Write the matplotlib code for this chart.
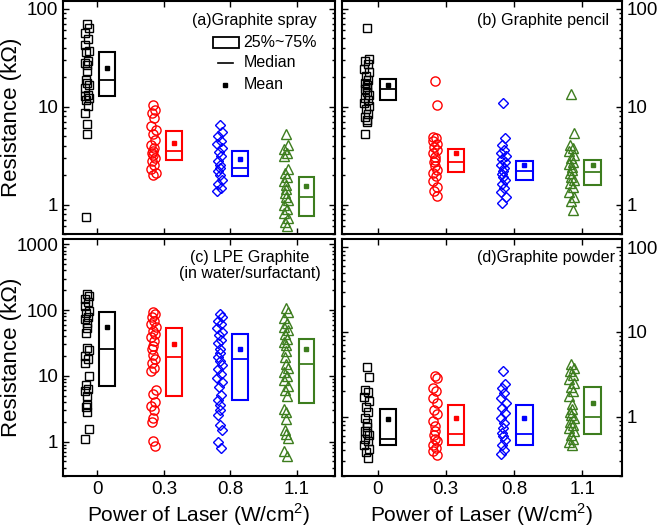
# -*- coding: utf-8 -*-
"""
Resistance vs laser power for four graphite inks (2x2 panel plot).
"""

import numpy as np
import matplotlib
matplotlib.use('Agg')
import matplotlib.pyplot as plt
from matplotlib.patches import Rectangle
from matplotlib.lines import Line2D
from matplotlib.ticker import LogLocator, FuncFormatter, NullFormatter

plt.rcParams['font.family'] = ['Liberation Sans', 'DejaVu Sans']
plt.rcParams['mathtext.fontset'] = 'custom'
plt.rcParams['mathtext.rm'] = 'Liberation Sans'

# ---- data (kOhm) ----
powers = ['0', '0.3', '0.8', '1.1']

# (a) graphite spray: raw points per laser power
spray_pts = [
    [70, 63.5, 56.5, 49, 43, 36.7, 35.8, 29.5, 27.9, 26.8, 23, 18.9, 17.4,
     16.8, 15.5, 13.3, 12.7, 12.3, 11.8, 10.1, 8.6, 6.65, 5.26, 0.75],
    [10.5, 9.3, 8.6, 7.66, 6.3, 5.8, 5.2, 4.6, 4.1, 3.8, 3.5, 3.37, 3.24,
     3.0, 2.77, 2.56, 2.28, 2.1, 2.0],
    [6.55, 5.47, 4.98, 4.43, 4.19, 3.79, 3.42, 3.11, 2.77, 2.56, 2.37, 2.19,
     2.02, 1.80, 1.64, 1.48, 1.37],
    [5.2, 4.1, 3.7, 3.37, 3.1, 2.31, 2.1, 1.92, 1.73, 1.60, 1.45, 1.32, 1.20,
     1.11, 1.0, 0.89, 0.82, 0.73, 0.66, 0.60],
]
spray_q25 = [12.9, 2.88, 1.95, 0.77]
spray_med = [18.9, 3.5, 2.37, 1.20]
spray_q75 = [35.8, 5.7, 3.56, 1.92]
spray_mean = [24.6, 4.3, 2.92, 1.54]

# (b) graphite pencil
pencil_pts = [
    [64, 31, 29.5, 27.3, 24.3, 22.5, 20.5, 18.9, 17.5, 16.7, 15.8, 15.0, 14.1,
     13.0, 12.2, 11.6, 11.0, 10.2, 9.4, 8.5, 7.9, 7.3, 6.9, 5.3],
    [18.1, 10.5, 4.93, 4.74, 4.45, 4.12, 3.84, 3.61, 3.39, 3.09, 2.86, 2.71,
     2.45, 2.26, 2.09, 1.94, 1.75, 1.50, 1.36, 1.23],
    [10.9, 4.74, 4.06, 3.61, 3.39, 3.16, 2.93, 2.71, 2.54, 2.35, 2.21, 2.06,
     1.91, 1.76, 1.63, 1.48, 1.34, 1.19, 1.04],
    [13.5, 5.33, 4.06, 3.81, 3.53, 3.21, 2.97, 2.75, 2.58, 2.41, 2.25, 2.08,
     1.92, 1.78, 1.65, 1.50, 1.34, 1.19, 1.08, 0.87],
]
pencil_q25 = [11.6, 2.13, 1.76, 1.58]
pencil_med = [15.0, 2.75, 2.18, 2.14]
pencil_q75 = [19.2, 3.66, 2.79, 2.84]
pencil_mean = [16.7, 3.39, 2.54, 2.54]

# (c) LPE graphite (in water/surfactant)
lpe_pts = [
    [176, 162, 147, 131, 114, 97.7, 90, 77, 73, 63, 54, 45.5, 26.8, 24.7, 20,
     17.8, 15.4, 9.9, 7.36, 6.32, 5.8, 5.0, 3.64, 3.35, 2.81, 1.55, 1.09],
    [94, 86, 77, 68.7, 61, 56, 48.3, 42.9, 39.5, 34, 28.5, 25.3, 20.5, 17.8,
     15.8, 13.3, 11.8, 6.0, 5.37, 3.95, 3.43, 2.98, 2.28, 2.02, 1.03, 0.86],
    [86.9, 77, 68.7, 61, 53, 46.6, 41.4, 35.2, 31.3, 25.9, 22.5, 19.5, 16.8,
     14.6, 12.9, 10.5, 9.32, 8.1, 6.79, 5.06, 4.34, 3.56, 2.98, 2.5, 1.8,
     1.51, 0.97, 0.79],
    [106, 92, 75.4, 63, 56, 49.4, 42.9, 36.8, 32.7, 29.1, 23.9, 19.5, 14.9,
     13.3, 11.4, 9.88, 8.5, 6.95, 6.18, 4.89, 3.13, 2.78, 2.2, 1.51, 1.29,
     1.15, 0.73, 0.6],
]
lpe_q25 = [6.95, 4.88, 4.24, 3.86]
lpe_med = [25.9, 19.3, 17.8, 14.9]
lpe_q75 = [92, 53, 42.9, 36.8]
lpe_mean = [55.6, 30.9, 25.9, 25.3]

# (d) graphite powder
powder_pts = [
    [3.86, 2.97, 2.05, 1.97, 1.71, 1.53, 1.31, 1.15, 0.97, 0.85, 0.76, 0.68,
     0.65, 0.61, 0.55, 0.52, 0.47, 0.42, 0.38, 0.33],
    [3.02, 2.89, 2.2, 2.01, 1.68, 1.46, 1.19, 1.07, 0.89, 0.78, 0.68, 0.61,
     0.55, 0.52, 0.47, 0.43, 0.39, 0.35],
    [3.46, 2.41, 2.16, 1.92, 1.68, 1.46, 1.28, 1.11, 0.97, 0.85, 0.74, 0.65,
     0.59, 0.53, 0.47, 0.41, 0.36],
    [4.15, 3.79, 3.46, 3.1, 2.76, 2.52, 2.24, 2.01, 1.75, 1.4, 1.25, 1.15,
     1.05, 0.96, 0.87, 0.8, 0.73, 0.67, 0.61, 0.55, 0.51, 0.46],
]
powder_q25 = [0.46, 0.47, 0.47, 0.62]
powder_med = [0.55, 0.62, 0.62, 1.0]
powder_q75 = [1.24, 1.37, 1.37, 2.24]
powder_mean = [0.95, 0.97, 0.97, 1.46]

# ---- style ----
colors = ['black', '#ff0000', '#0000ff', '#3d7d1e']
markers = ['s', 'o', 'D', '^']
msizes = [5.6, 6.6, 5.0, 7.0]
jitter = [0.0, 0.03, -0.024, 0.016, -0.034, 0.036, -0.01, 0.024, -0.03,
          0.008, 0.004, -0.018]


def draw_panel(ax, pts, q25, med, q75, mean, ylim, label_side):
    pos = np.arange(1, len(powers) + 1)
    for i in range(len(powers)):
        vals = np.asarray(pts[i])
        xj = pos[i] - 0.16 + np.resize(jitter, len(vals))
        ax.plot(xj, vals, linestyle='none', marker=markers[i],
                markersize=msizes[i], markerfacecolor='none',
                markeredgecolor=colors[i], markeredgewidth=1.0)
    # 25%~75% boxes, median and mean
    ax.bar(pos + 0.15, np.array(q75) - np.array(q25), bottom=q25, width=0.24,
           facecolor='none', edgecolor=colors, linewidth=1.5)
    ax.hlines(med, pos + 0.03, pos + 0.27, colors=colors, linewidth=1.3)
    for i in range(len(powers)):
        ax.plot(pos[i] + 0.15, mean[i], marker='s', markersize=2.6,
                color=colors[i], linestyle='none')

    ax.set_yscale('log')
    ax.set_ylim(*ylim)
    ax.set_xlim(0.48, 4.58)
    ax.set_xticks(pos)
    ax.yaxis.set_major_locator(LogLocator(base=10))
    ax.yaxis.set_minor_locator(LogLocator(base=10, subs=np.arange(2, 10)))
    ax.yaxis.set_major_formatter(FuncFormatter(lambda v, p: '%g' % v))
    ax.yaxis.set_minor_formatter(NullFormatter())
    ax.tick_params(which='both', direction='in', top=True, bottom=True,
                   left=True, right=True, width=1.0, labelsize=13.5)
    ax.tick_params(which='major', length=4)
    ax.tick_params(which='minor', length=2.2)
    ax.tick_params(axis='x', which='minor', bottom=False, top=False)
    if label_side == 'right':
        ax.tick_params(axis='y', labelleft=False, labelright=True)
    for sp in ax.spines.values():
        sp.set_linewidth(1.5)


fig = plt.figure(figsize=(6.61, 5.29), dpi=100)
W, H = 661.0, 529.0


def add_axes(x0, x1, y0, y1):
    return fig.add_axes([x0 / W, 1 - y1 / H, (x1 - x0) / W, (y1 - y0) / H])


ax_a = add_axes(63, 335, 1, 234)
ax_b = add_axes(342, 622, 1, 234)
ax_c = add_axes(63, 335, 239, 476)
ax_d = add_axes(342, 622, 239, 476)

draw_panel(ax_a, spray_pts, spray_q25, spray_med, spray_q75, spray_mean,
           (0.5, 120), 'left')
draw_panel(ax_b, pencil_pts, pencil_q25, pencil_med, pencil_q75, pencil_mean,
           (0.5, 120), 'right')
draw_panel(ax_c, lpe_pts, lpe_q25, lpe_med, lpe_q75, lpe_mean,
           (0.3, 1200), 'left')
draw_panel(ax_d, powder_pts, powder_q25, powder_med, powder_q75, powder_mean,
           (0.2, 125), 'right')

for ax in (ax_a, ax_b):
    ax.tick_params(axis='x', labelbottom=False)
for ax in (ax_c, ax_d):
    ax.set_xticklabels(powers)
    ax.set_xlabel('Power of Laser (W/cm$^2$)', fontsize=15, labelpad=2.5)
for ax in (ax_a, ax_c):
    ax.set_ylabel('Resistance (k\u03a9)', fontsize=16)
    # right edge of the rotated label sits ~22 px from the figure edge
    ax.yaxis.set_label_coords(-41.0 / 272, 0.5)

# panel titles
tfs = 11.5
ax_a.text(0.934, 0.918, '(a)Graphite spray', transform=ax_a.transAxes,
          ha='right', va='center', fontsize=tfs)
ax_b.text(0.954, 0.918, '(b) Graphite pencil', transform=ax_b.transAxes,
          ha='right', va='center', fontsize=tfs)
ax_c.text(0.687, 0.955, '(c) LPE Graphite\n(in water/surfactant)',
          transform=ax_c.transAxes, ha='center', va='top', fontsize=tfs,
          linespacing=1.15)
ax_d.text(0.975, 0.92, '(d)Graphite powder', transform=ax_d.transAxes,
          ha='right', va='center', fontsize=tfs)

# legend for the box elements (drawn in axes coords of panel a)
ax_a.add_patch(Rectangle((0.551, 0.797), 0.096, 0.047, transform=ax_a.transAxes,
                         facecolor='none', edgecolor='black', linewidth=1.3))
ax_a.add_line(Line2D([0.57, 0.625], [0.734, 0.734], transform=ax_a.transAxes,
                     color='black', linewidth=1.2))
ax_a.add_line(Line2D([0.596], [0.64], transform=ax_a.transAxes, marker='s',
                     markersize=2.6, color='black', linestyle='none'))
for yy, txt in zip([0.82, 0.734, 0.64], ['25%~75%', 'Median', 'Mean']):
    ax_a.text(0.664, yy, txt, transform=ax_a.transAxes, ha='left',
              va='center', fontsize=tfs)

fig.savefig('out.png', dpi=100)
